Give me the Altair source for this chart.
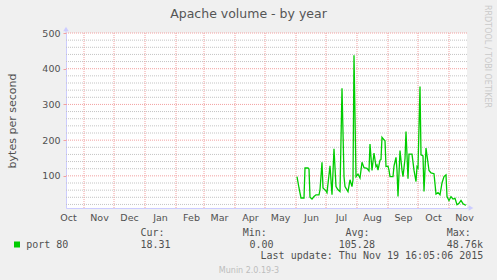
import altair as alt
import pandas as pd

# ---- data ----
dates = [
    "2015-06-02", "2015-06-04", "2015-06-06", "2015-06-09", "2015-06-10", "2015-06-13",
    "2015-06-14", "2015-06-15", "2015-06-17", "2015-06-19", "2015-06-21", "2015-06-24",
    "2015-06-25", "2015-06-27", "2015-06-28", "2015-07-01", "2015-07-02", "2015-07-05",
    "2015-07-07", "2015-07-09", "2015-07-11", "2015-07-13", "2015-07-15", "2015-07-17",
    "2015-07-19", "2015-07-20", "2015-07-23", "2015-07-25", "2015-07-27", "2015-07-28",
    "2015-07-29", "2015-07-31", "2015-08-02", "2015-08-04", "2015-08-06", "2015-08-08",
    "2015-08-11", "2015-08-13", "2015-08-14", "2015-08-16", "2015-08-18", "2015-08-20",
    "2015-08-21", "2015-08-22", "2015-08-24", "2015-08-25", "2015-08-26", "2015-08-28",
    "2015-08-29", "2015-08-30", "2015-09-01", "2015-09-02", "2015-09-03", "2015-09-06",
    "2015-09-07", "2015-09-09", "2015-09-10", "2015-09-11", "2015-09-13", "2015-09-15",
    "2015-09-16", "2015-09-18", "2015-09-19", "2015-09-21", "2015-09-22", "2015-09-25",
    "2015-09-27", "2015-09-29", "2015-09-30", "2015-10-01", "2015-10-03", "2015-10-04",
    "2015-10-06", "2015-10-07", "2015-10-09", "2015-10-11", "2015-10-12", "2015-10-14",
    "2015-10-17", "2015-10-19", "2015-10-21", "2015-10-23", "2015-10-25", "2015-10-27",
    "2015-10-29", "2015-10-30", "2015-11-01", "2015-11-03", "2015-11-05", "2015-11-07",
    "2015-11-09", "2015-11-11", "2015-11-13", "2015-11-15", "2015-11-17", "2015-11-18",
]
values = [
    98, 66, 38, 38, 122, 122,
    119, 40, 35, 42, 47, 47,
    61, 138, 66, 58, 53, 128,
    47, 176, 70, 61, 56, 345,
    98, 70, 56, 89, 70, 89,
    438, 98, 105, 94, 138, 123,
    121, 114, 189, 115, 164, 126,
    130, 116, 144, 146, 208, 201,
    198, 126, 127, 116, 98, 98,
    127, 152, 116, 42, 171, 116,
    98, 148, 224, 92, 161, 161,
    116, 84, 126, 122, 350, 159,
    156, 56, 178, 136, 115, 108,
    106, 49, 53, 47, 80, 98,
    103, 42, 31, 42, 35, 37,
    19, 23, 31, 22, 19, 18.31,
]

major_y = [100, 200, 300, 400, 500]
minor_y = [20, 40, 60, 80, 120, 140, 160, 180, 220, 240, 260, 280,
           320, 340, 360, 380, 420, 440, 460, 480]
month_starts = ["2014-11-01", "2014-12-01", "2015-01-01", "2015-02-01", "2015-03-01",
                "2015-04-01", "2015-05-01", "2015-06-01", "2015-07-01", "2015-08-01",
                "2015-09-01", "2015-10-01", "2015-11-01"]
label_months = [(2014, 10), (2014, 11), (2014, 12), (2015, 1), (2015, 2), (2015, 3),
                (2015, 4), (2015, 5), (2015, 6), (2015, 7), (2015, 8), (2015, 9),
                (2015, 10), (2015, 11)]

title_text = "Apache volume - by year"
y_title = "bytes per second"
series_name = "port 80"
stat_heads = ["Cur:", "Min:", "Avg:", "Max:"]
stat_vals = ["18.31", "0.00", "105.28", "48.76k"]
last_update = "Last update: Thu Nov 19 16:05:06 2015"
footer = "Munin 2.0.19-3"
watermark = "RRDTOOL / TOBI OETIKER"

W, H = 401, 175
GREEN = "#00cc00"
RED_GRID = "#f2a0a0"
GREY_GRID = "#c4c4c4"
AXIS_BLUE = "#ccccff"
TXT = "#505050"

xscale = alt.Scale(domain=[alt.DateTime(year=2014, month=10, date=14),
                           alt.DateTime(year=2015, month=11, date=19)])
yscale = alt.Scale(domain=[10, 500], nice=False, zero=False)

x_axis = alt.Axis(
    values=[alt.DateTime(year=y, month=m, date=16) for y, m in label_months],
    format="%b", grid=False, ticks=False, tickSize=0, labelPadding=4,
    domainColor=AXIS_BLUE, labelFont="DejaVu Sans", labelFontSize=9.5,
    labelColor=TXT, labelAlign="center", labelFlush=False, labelOverlap=False)
y_axis = alt.Axis(
    values=major_y, grid=False, ticks=True, tickSize=3, tickColor=RED_GRID,
    labelPadding=3, domainColor=AXIS_BLUE, labelFont="DejaVu Sans",
    labelFontSize=9.5, labelColor=TXT, titleFont="DejaVu Sans", titleFontSize=11,
    titleFontWeight="normal", titleColor=TXT, titleAngle=270, titleX=-51,
    titleY=H / 2, titleAlign="center", titleBaseline="alphabetic")

X = alt.X("t:T", scale=xscale, title=None, axis=x_axis)
Y = alt.Y("v:Q", scale=yscale, title=y_title, axis=y_axis)

df = pd.DataFrame({"t": [d + "T00:00:00" for d in dates], "v": values})
minor_df = pd.DataFrame({"v": minor_y})
major_df = pd.DataFrame({"v": major_y})
month_df = pd.DataFrame({"t": [d + "T00:00:00" for d in month_starts]})

minor_rules = alt.Chart(minor_df).mark_rule(color=GREY_GRID, strokeDash=[1, 1], strokeWidth=1).encode(y=Y)
major_rules = alt.Chart(major_df).mark_rule(color=RED_GRID, strokeDash=[1, 1], strokeWidth=1).encode(y=Y)
month_rules = alt.Chart(month_df).mark_rule(color=RED_GRID, strokeDash=[1, 1], strokeWidth=1).encode(x=X)
line = alt.Chart(df).mark_line(color=GREEN, strokeWidth=1.3, clip=True).encode(x=X, y=Y)

one = pd.DataFrame({"k": [0]})


def txt(text, x, y, size=10, font="DejaVu Sans Mono", color=TXT, align="left",
        baseline="alphabetic", angle=0):
    return alt.Chart(one).mark_text(text=text, font=font, fontSize=size, color=color,
                                    align=align, baseline=baseline, angle=angle).encode(
        x=alt.value(x), y=alt.value(y))


texts = [
    txt(title_text, 182.5, -14.7, size=12.5, font="DejaVu Sans", color="#555555", align="center"),
    txt(series_name, -39.8, 214.7),
    txt(last_update, 417.3, 226.3, align="right"),
    txt(footer, 183, 239.5, size=8, font="DejaVu Sans", color="#bdbdbd", align="center"),
    txt(watermark, 421, -28, size=8, font="DejaVu Sans", color="#cacaca", angle=90,
        baseline="middle"),
]
head_x = [74.5, 176.8, 279.5, 380.8]
val_x = [74.5, 183.5, 272.8, 380.8]
for h, hx in zip(stat_heads, head_x):
    texts.append(txt(h, hx, 203))
for v, vx in zip(stat_vals, val_x):
    texts.append(txt(v, vx, 214.7))

swatch = alt.Chart(one).mark_square(color=GREEN, filled=True, size=36, opacity=1).encode(
    x=alt.value(-49), y=alt.value(211.5))

# axis arrow extensions
x_ext = alt.Chart(one).mark_rule(color=AXIS_BLUE).encode(
    x=alt.value(W), x2=alt.value(W + 4), y=alt.value(H))
y_ext = alt.Chart(one).mark_rule(color=AXIS_BLUE).encode(
    x=alt.value(0), y=alt.value(-3), y2=alt.value(0))
x_arrow = alt.Chart(one).mark_point(shape="triangle-right", filled=True, color=AXIS_BLUE,
                                    size=30, opacity=1).encode(x=alt.value(W + 4), y=alt.value(H))
y_arrow = alt.Chart(one).mark_point(shape="triangle-up", filled=True, color=AXIS_BLUE,
                                    size=30, opacity=1).encode(x=alt.value(0), y=alt.value(-4))

chart = alt.layer(minor_rules, major_rules, month_rules, line, swatch, x_ext, y_ext,
                  x_arrow, y_arrow, *texts).properties(
    width=W, height=H,
    padding={"left": 66, "top": 33, "right": 30, "bottom": 72},
    autosize=alt.AutoSizeParams(type="none"),
    background="#f0f0f0",
).configure_view(fill="white", stroke=None)

chart.save("out.html", embed_options={"renderer": "svg", "actions": False})
